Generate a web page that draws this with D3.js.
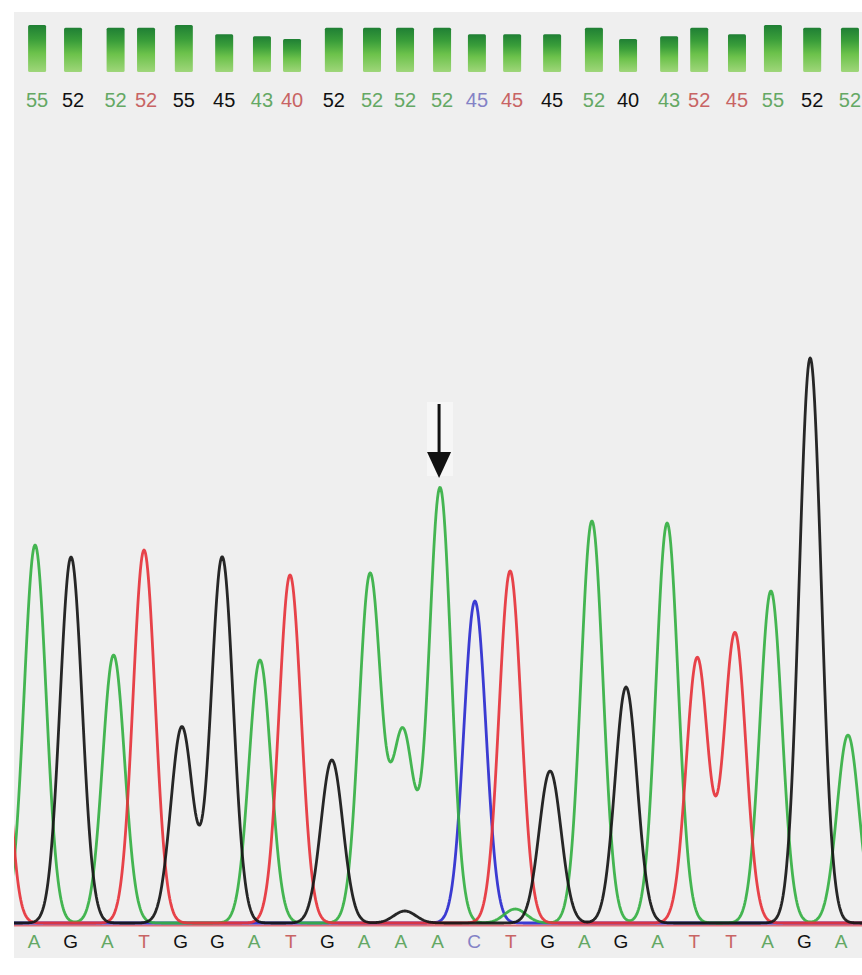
<!DOCTYPE html>
<html>
<head>
<meta charset="utf-8">
<script src="https://cdn.jsdelivr.net/npm/d3@7"></script>
<style>
  body { margin: 0; background: #ffffff; }
  svg { display: block; }
</style>
</head>
<body>
<div id="vis"></div>
<script>
// declare constants
const FRAME_WIDTH = 862
const FRAME_HEIGHT = 975
const PANEL = {left: 14, top: 12, right: 862, bottom: 958}

// called bases and their quality values
const BASES = ["A","G","A","T","G","G","A","T","G","A","A","A","C","T","G","A","G","A","T","T","A","G","A"];
const QUALITY = [55,52,52,52,55,45,43,40,52,52,52,52,45,45,45,52,40,43,52,45,55,52,52];

// trace peak for each base: position (in base units) and signal height
const PEAK_POS = [0.03,1.01,2.17,3.0,4.03,5.13,6.16,6.98,8.12,9.16,10.06,11.07,12.02,12.98,14.07,15.21,16.14,17.26,18.08,19.11,20.09,21.16,22.19];
const PEAK_HEIGHT = [378,366,268,373,196,366,263,348,163,348,190,435,322,352,152,402,236,400,265,290,332,565,188];

// small extra peaks (previous base off the left edge, background bumps)
const MINOR_BASE = ["T","G","A"];
const MINOR_POS = [-1.06, 10.11, 13.12];
const MINOR_HEIGHT = [350, 12, 14];

// arrow marks this base
const ARROW_BASE = 11;

const TRACE_COLOR = {A: "#35b043", G: "#151515", T: "#e6333b", C: "#2b2bcf"};
const LABEL_COLOR = {A: "#64a864", G: "#111111", T: "#c86464", C: "#8482c6"};

const FRAME = d3.select("#vis")
                .append("svg")
                .attr("width", FRAME_WIDTH)
                .attr("height", FRAME_HEIGHT);

// grey panel
FRAME.append("rect")
     .attr("x", PANEL.left)
     .attr("y", PANEL.top)
     .attr("width", PANEL.right - PANEL.left)
     .attr("height", PANEL.bottom - PANEL.top)
     .attr("fill", "#efefef");

const defs = FRAME.append("defs");
defs.append("clipPath").attr("id", "clip")
    .append("rect")
    .attr("x", PANEL.left).attr("y", PANEL.top)
    .attr("width", PANEL.right - PANEL.left).attr("height", PANEL.bottom - PANEL.top);

const grad = defs.append("linearGradient")
                 .attr("id", "qbar")
                 .attr("x1", 0).attr("y1", 0).attr("x2", 0).attr("y2", 1);
grad.append("stop").attr("offset", "0%").attr("stop-color", "#1f7f34");
grad.append("stop").attr("offset", "30%").attr("stop-color", "#3a9e3a");
grad.append("stop").attr("offset", "60%").attr("stop-color", "#6cc24b");
grad.append("stop").attr("offset", "100%").attr("stop-color", "#9fd67a");

// scales
const X_SCALE = d3.scaleLinear()
                  .domain([0, BASES.length - 1])
                  .range([34, 841]);

const Y_SCALE = d3.scaleLinear()
                  .domain([0, 900])
                  .range([923, 23]);

const Q_SCALE = d3.scaleLinear()
                  .domain([0, 55])
                  .range([76, 25]);
const Q_BOTTOM = 72;

// quality bars
FRAME.append("g")
     .selectAll("rect")
     .data(QUALITY)
     .enter()
     .append("rect")
       .attr("x", (d, i) => X_SCALE(PEAK_POS[i]) + 2 - 9)
       .attr("y", d => Q_SCALE(d))
       .attr("width", 18)
       .attr("height", d => Q_BOTTOM - Q_SCALE(d))
       .attr("rx", 1.5)
       .attr("fill", "url(#qbar)");

// quality numbers
FRAME.append("g")
     .selectAll("text")
     .data(QUALITY)
     .enter()
     .append("text")
       .attr("x", (d, i) => X_SCALE(PEAK_POS[i]) + 2)
       .attr("y", 107)
       .attr("text-anchor", "middle")
       .attr("font-family", "'Liberation Sans', Arial, sans-serif")
       .attr("font-size", "20px")
       .attr("fill", (d, i) => LABEL_COLOR[BASES[i]])
       .text(d => d);

// pink baseline under the traces
FRAME.append("line")
     .attr("x1", PANEL.left).attr("x2", PANEL.right)
     .attr("y1", Y_SCALE(0) + 2.5).attr("y2", Y_SCALE(0) + 2.5)
     .attr("stroke", "#e0707a")
     .attr("stroke-width", 2);

// build the peaks list for every channel
const peaks = BASES.map((b, i) => ({base: b, pos: PEAK_POS[i], h: PEAK_HEIGHT[i]}))
                   .concat(MINOR_BASE.map((b, i) => ({base: b, pos: MINOR_POS[i], h: MINOR_HEIGHT[i]})));

const SIGMA = 0.3;  // peak width in base units
const samples = d3.range(-0.8, 22.8, 0.02);

function traceFor(base) {
  const own = peaks.filter(p => p.base === base);
  return samples.map(u => ({
    u: u,
    v: d3.sum(own, p => p.h * Math.exp(-((u - p.pos) ** 2) / (2 * SIGMA * SIGMA)))
  }));
}

const line = d3.line()
               .x(d => X_SCALE(d.u))
               .y(d => Y_SCALE(d.v));

const traces = FRAME.append("g").attr("clip-path", "url(#clip)");

["C", "A", "T", "G"].forEach(b => {
  traces.append("path")
        .datum(traceFor(b))
        .attr("d", line)
        .attr("fill", "none")
        .attr("stroke", TRACE_COLOR[b])
        .attr("stroke-width", 2.8)
        .attr("stroke-opacity", 0.92)
        .attr("stroke-linejoin", "round");
});

// base calls under the traces
FRAME.append("g")
     .selectAll("text")
     .data(BASES)
     .enter()
     .append("text")
       .attr("x", (d, i) => X_SCALE(i))
       .attr("y", 948)
       .attr("text-anchor", "middle")
       .attr("font-family", "'Liberation Sans', Arial, sans-serif")
       .attr("font-size", "19px")
       .attr("fill", d => LABEL_COLOR[d])
       .text(d => d);

// arrow over the marked peak
const ax = X_SCALE(PEAK_POS[ARROW_BASE]) - 1;
const tipY = Y_SCALE(PEAK_HEIGHT[ARROW_BASE]) - 10;

FRAME.append("rect")
     .attr("x", ax - 12).attr("y", tipY - 76)
     .attr("width", 26).attr("height", 74)
     .attr("fill", "#ffffff")
     .attr("opacity", 0.45);

FRAME.append("line")
     .attr("x1", ax).attr("x2", ax)
     .attr("y1", tipY - 74).attr("y2", tipY - 20)
     .attr("stroke", "#111")
     .attr("stroke-width", 3);

FRAME.append("path")
     .attr("d", `M${ax - 12},${tipY - 26} L${ax + 12},${tipY - 26} L${ax},${tipY} Z`)
     .attr("fill", "#111");
</script>
</body>
</html>
